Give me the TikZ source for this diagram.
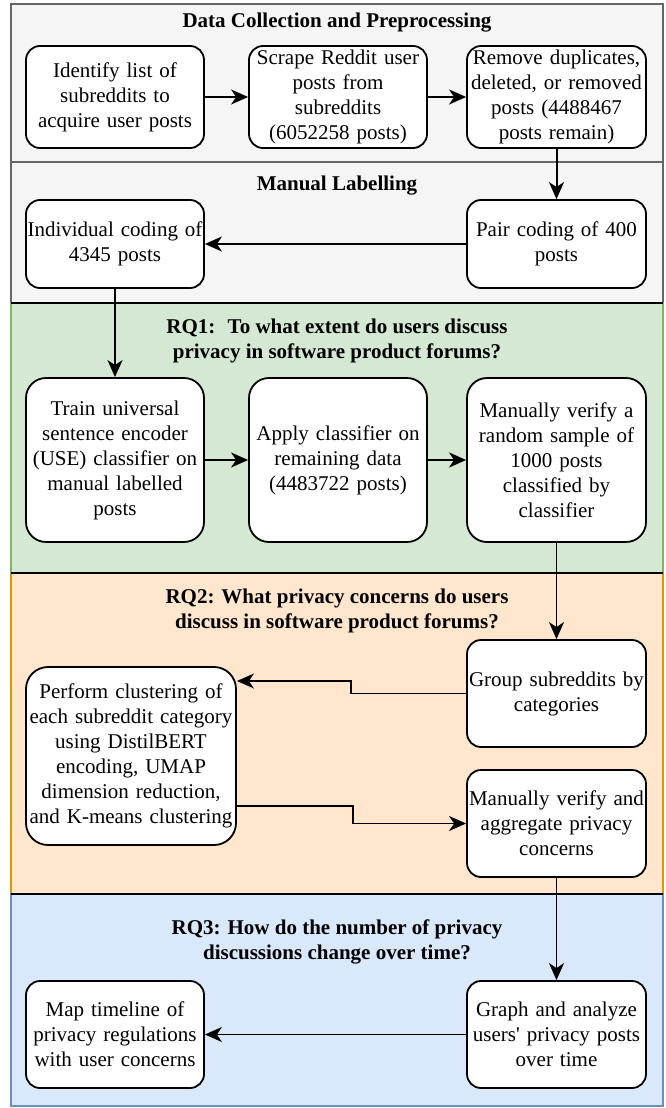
\documentclass[tikz,border=0pt]{standalone}
\usepackage{fontspec}
\setmainfont{Liberation Serif}
\usepackage{tikz}
\usetikzlibrary{arrows.meta}
\definecolor{grayFill}{HTML}{F5F5F5}
\definecolor{grayLine}{HTML}{666666}
\definecolor{greenFill}{HTML}{D5E8D4}
\definecolor{greenLine}{HTML}{82B366}
\definecolor{orangeFill}{HTML}{FFE6CC}
\definecolor{orangeLine}{HTML}{D79B00}
\definecolor{blueFill}{HTML}{DAE8FC}
\definecolor{blueLine}{HTML}{6C8EBF}

\begin{document}
\begin{tikzpicture}[x=1pt,y=-1pt,
  lane/.style 2 args={fill=#1,draw=#2,line width=1.2pt},
  lanetitle/.style={align=center,inner sep=0pt,font=\fontsize{21}{25}\selectfont\bfseries},
  stepbox/.style 2 args={draw,fill=white,line width=1.8pt,rounded corners=14pt,inner sep=0pt,
    align=center,text width=#1,minimum height=#2,font=\fontsize{21}{25}\selectfont},
  flow/.style={line width=2pt,-{Stealth[length=17pt,width=15pt,inset=5pt]}}]
\useasboundingbox (0,0) rectangle (665,1108);

\draw[lane={grayFill}{grayLine}] (11,4) rectangle (663,162);
\draw[lane={grayFill}{grayLine}] (11,162) rectangle (663,303);
\draw[lane={greenFill}{greenLine}] (11,303) rectangle (663,573);
\draw[lane={orangeFill}{orangeLine}] (11,573) rectangle (663,894);
\draw[lane={blueFill}{blueLine}] (11,894) rectangle (663,1106);
\draw[line width=1.2pt] (11,303) -- (663,303) (11,573) -- (663,573) (11,894) -- (663,894);

\node[lanetitle] (t1) at (337,23) {Data Collection and Preprocessing};
\node[lanetitle] (t2) at (337,186) {Manual Labelling};
\node[lanetitle] (t3) at (337,341) {RQ1:~ To what extent do users discuss\\privacy in software product forums?};
\node[lanetitle] (t4) at (337,611) {RQ2: What privacy concerns do users\\discuss in software product forums?};
\node[lanetitle] (t5) at (337,942) {RQ3: How do the number of privacy\\discussions change over time?};

\node[stepbox={178pt}{102pt}] (ident) at (115,97) {Identify list of\\subreddits to\\acquire user posts};
\node[stepbox={178pt}{102pt}] (scrape) at (338,97) {Scrape Reddit user\\posts from\\subreddits\\(6052258 posts)};
\node[stepbox={179pt}{102pt}] (remove) at (556.5,97) {Remove duplicates,\\deleted, or removed\\posts (4488467\\posts remain)};
\node[stepbox={178pt}{88pt}] (indiv) at (115,244) {Individual coding of\\4345 posts};
\node[stepbox={179pt}{88pt}] (pair) at (556.5,244) {Pair coding of 400\\posts};
\node[stepbox={178pt}{164pt},rounded corners=20pt] (train) at (115,460) {Train universal\\sentence encoder\\(USE) classifier on\\manual labelled\\posts};
\node[stepbox={178pt}{164pt},rounded corners=20pt] (apply) at (338,460) {Apply classifier on\\remaining data\\(4483722 posts)};
\node[stepbox={179pt}{164pt},rounded corners=20pt] (verify) at (556.5,460) {Manually verify a\\random sample of\\1000 posts\\classified by\\classifier};
\node[stepbox={179pt}{107pt}] (group) at (556.5,693.5) {Group subreddits by\\categories};
\node[stepbox={210pt}{178pt},rounded corners=22pt] (perform) at (131,756) {Perform clustering of\\each subreddit category\\using DistilBERT\\encoding, UMAP\\dimension reduction,\\and K-means clustering};
\node[stepbox={179pt}{107pt}] (aggreg) at (556.5,823.5) {Manually verify and\\aggregate privacy\\concerns};
\node[stepbox={179pt}{107pt}] (graph) at (556.5,1034.5) {Graph and analyze\\users\textquotesingle{} privacy posts\\over time};
\node[stepbox={178pt}{107pt}] (maptl) at (115,1034.5) {Map timeline of\\privacy regulations\\with user concerns};

\draw[flow] (ident) -- (scrape);
\draw[flow] (scrape) -- (remove);
\draw[flow] (remove) -- (pair);
\draw[flow,line width=1.6pt] (pair) -- (indiv);
\draw[flow,line width=1.6pt] (indiv) -- (train);
\draw[flow] (train) -- (apply);
\draw[flow] (apply) -- (verify);
\draw[flow,line width=1.6pt] (verify) -- (group);
\draw[flow,line width=1.6pt] (group.west) -- ++(-115,0) |- ([yshift=75pt]perform.east);
\draw[flow,line width=1.6pt] ([yshift=-50pt]perform.east) -- ++(116,0) |- (aggreg.west);
\draw[flow,line width=1.6pt] (aggreg) -- (graph);
\draw[flow,line width=1.6pt] (graph) -- (maptl);
\end{tikzpicture}
\end{document}
